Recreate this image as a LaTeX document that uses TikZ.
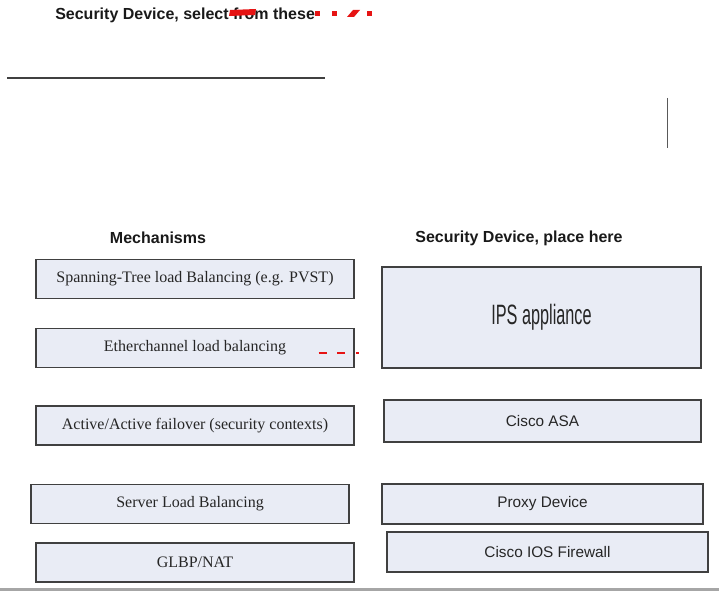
\documentclass[tikz,border=0pt]{standalone}
\usepackage{fontspec}
\setmainfont{Liberation Serif}
\setsansfont{Liberation Sans}
\definecolor{boxfill}{RGB}{233,236,245}
\definecolor{markred}{RGB}{230,20,20}

\begin{document}
\begin{tikzpicture}[x=0.75pt, y=-0.75pt,
        mechbox/.style={draw=black!75, line width=0.9pt, fill=boxfill, text=black!85,
            minimum width=238.5pt, minimum height=29.25pt, inner sep=0pt,
            font=\fontsize{12}{14}\selectfont},
        devbox/.style={draw=black!75, line width=0.9pt, fill=boxfill, text=black!85,
            inner sep=0pt, font=\sffamily\fontsize{11.5}{14}\selectfont},
        heading/.style={text=black!90, inner sep=0pt, font=\sffamily\bfseries\fontsize{12}{14}\selectfont}]
    \useasboundingbox (0, 0) rectangle (719, 591);

    % title and empty frame above
    \node[heading, anchor=west] (selhead) at (55, 15){Security Device, select from these};
    \draw[black!75, line width=0.8pt] (7, 78) -- (325, 78);
    \draw[black!65, line width=0.6pt] (667, 98) -- (667, 148);
    \fill[markred] (230, 10) -- (256, 9) -- (255, 15) -- (229, 16) -- cycle;
    \foreach \x in {315, 332, 367} {
        \fill[markred] (\x, 11) rectangle (\x + 5, 16);
    }
    \fill[markred] (347, 17) -- (353, 10) -- (360, 10) -- (354, 17) -- cycle;

    % column headings
    \node[heading] (mechhead) at (158, 238){Mechanisms};
    \node[heading] (placehead) at (519, 238){Security Device, place here};

    % mechanisms
    \node[mechbox] (stp) at (195, 279){Spanning-Tree load Balancing (e.g. PVST)};
    \node[mechbox] (ether) at (195, 348){Etherchannel load balancing};
    \node[mechbox] (failover) at (195, 425.5){Active/Active failover (security contexts)};
    \node[mechbox] (slb) at (190, 504){Server Load Balancing};
    \node[mechbox] (glbp) at (195, 562.5){GLBP/NAT};

    % security devices
    \node[devbox, minimum width=239.25pt, minimum height=75.75pt] (ips) at (541.5, 317.5){\fontsize{21}{24}\selectfont\scalebox{0.58}[1]{IPS appliance}};
    \node[devbox, minimum width=237.75pt, minimum height=31.5pt] (asa) at (542.5, 421){Cisco ASA};
    \node[devbox, minimum width=240.75pt, minimum height=30pt] (proxy) at (542.5, 504){Proxy Device};
    \node[devbox, minimum width=240.75pt, minimum height=30pt] (iosfw) at (547.5, 552){Cisco IOS Firewall};

    \coordinate (dashend) at (359, 353);
    \draw[markred, line width=1.2pt, dash pattern=on 6pt off 8pt] (ether.east |- dashend) ++(-36, 0) -- (dashend);

    % bottom rule
    \draw[black!35, line width=1.6pt] (0, 589.5) -- (719, 589.5);
\end{tikzpicture}
\end{document}
